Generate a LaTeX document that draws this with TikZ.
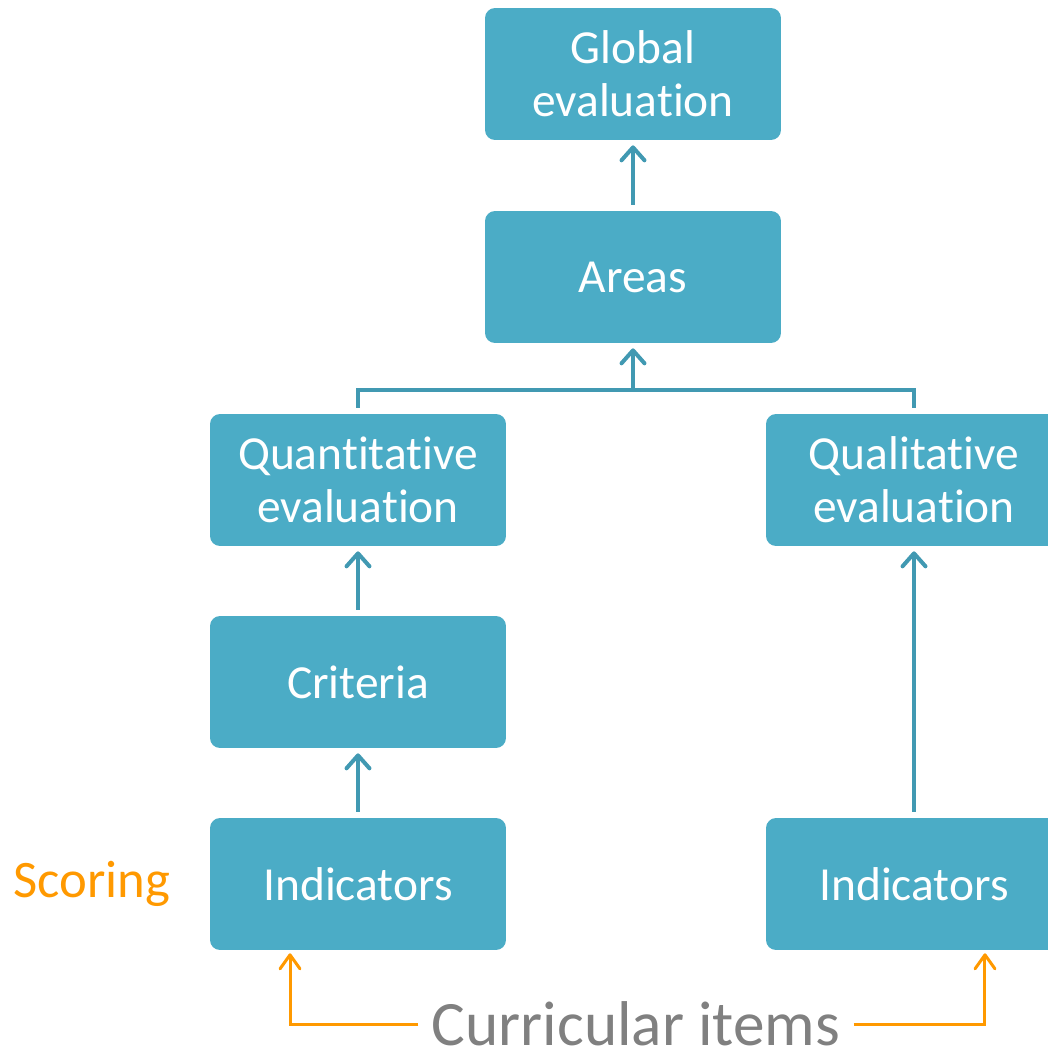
\documentclass[tikz,border=0pt]{standalone}
\usepackage{fontspec}
\setmainfont[Ligatures=NoCommon]{Carlito}
\usetikzlibrary{arrows.meta}
\definecolor{boxblue}{HTML}{4BACC6}
\definecolor{linkblue}{HTML}{4199B2}
\definecolor{scoreorange}{HTML}{FF9900}
\definecolor{itemgray}{HTML}{808080}
\begin{document}
\begin{tikzpicture}[x=0.02cm,y=-0.02cm]
    \useasboundingbox (0,0) rectangle (1048,1052);
    % Define the styles for the levels and arrows
    \tikzstyle{level}=[rectangle, rounded corners=0.2cm, fill=boxblue, text=white, align=center, text width=5.2cm, minimum width=5.92cm, minimum height=2.64cm, font=\fontsize{27}{30}\selectfont]
    \tikzstyle{link}=[line width=0.08cm, draw=linkblue]
    \tikzstyle{arrow}=[link, -{Straight Barb[round,length=0.26cm,width=0.46cm]}, shorten >=0.1cm, shorten <=0.12cm]
    \tikzstyle{feed}=[line width=0.06cm, draw=scoreorange, -{Straight Barb[round,length=0.28cm,width=0.4cm]}, shorten >=0.06cm]

    % Draw the levels
    \node[level] (global) at (633,74) {Global\\evaluation};
    \node[level] (areas) at (633,277) {Areas};
    \node[level] (quant) at (358,480) {Quantitative\\evaluation};
    \node[level] (qual) at (914,480) {Qualitative\\evaluation};
    \node[level] (crit) at (358,682) {Criteria};
    \node[level] (indL) at (358,884) {Indicators};
    \node[level] (indR) at (914,884) {Indicators};
    \node[text=scoreorange, font=\fontsize{30}{36}\selectfont] (scoring) at (92,884) {Scoring};
    \node[text=itemgray, font=\fontsize{36}{43}\selectfont, inner xsep=0.26cm, inner ysep=0pt] (items) at (636,1024) {Curricular items};
    \coordinate (merge) at (633,390);

    % Draw the arrows between the levels
    \draw[arrow] (areas) -- (global);
    \draw[arrow, shorten <=0cm] (merge) -- (areas);
    \draw[link] ([yshift=0.12cm]quant.north) |- (merge) -| ([yshift=0.12cm]qual.north);
    \draw[arrow] (crit) -- (quant);
    \draw[arrow] (indL) -- (crit);
    \draw[arrow] (indR) -- (qual);
    \draw[feed] (items.west) -| ([xshift=-1.36cm]indL.south);
    \draw[feed] (items.east) -| ([xshift=1.42cm]indR.south);
\end{tikzpicture}
\end{document}
